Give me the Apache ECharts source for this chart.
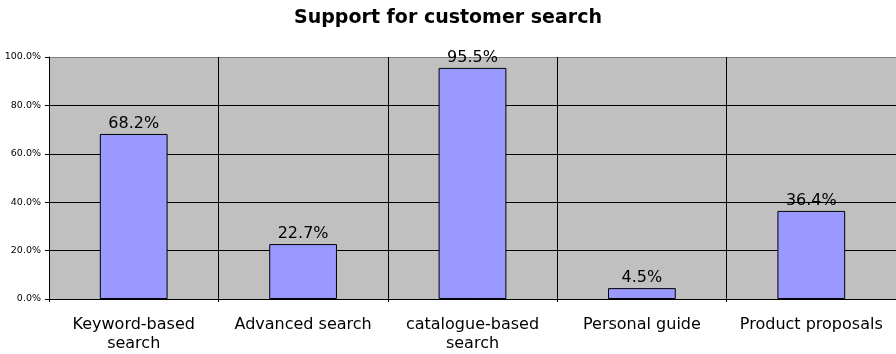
<!DOCTYPE html>
<html><head><meta charset="utf-8">
<script src="https://cdn.jsdelivr.net/npm/echarts@6/dist/echarts.min.js"></script>
<style>html,body{margin:0;padding:0;background:#fff}#c{width:896px;height:354px}</style>
</head><body><div id="c"></div>
<script>
const categories = ['Keyword-based\nsearch', 'Advanced search', 'catalogue-based\nsearch', 'Personal guide', 'Product proposals'];
const values = [0.682, 0.227, 0.955, 0.045, 0.364];
const yTicks = [0, 0.2, 0.4, 0.6, 0.8, 1.0];
const title = 'Support for customer search';

const chart = echarts.init(document.getElementById('c'), null, {renderer: 'canvas'});
chart.setOption({
  animation: false,
  title: {text: title, left: 'center', top: 4, textStyle: {fontFamily: 'DejaVu Sans', fontSize: 19, fontWeight: 'bold', color: '#000'}},
  grid: {left: 49, right: 0, top: 57, bottom: 55, show: true, backgroundColor: '#c0c0c0', borderWidth: 0},
  xAxis: {
    type: 'category', data: categories,
    axisLine: {show: true, lineStyle: {color: '#000', width: 1}},
    axisTick: {show: true, length: 3, lineStyle: {color: '#000'}},
    splitLine: {show: true, lineStyle: {color: '#000', width: 1}},
    axisLabel: {fontFamily: 'DejaVu Sans', fontSize: 16, color: '#000', margin: 16, lineHeight: 19, interval: 0}
  },
  yAxis: {
    type: 'value', min: yTicks[0], max: yTicks[yTicks.length - 1], interval: 0.2,
    axisLine: {show: true, lineStyle: {color: '#000'}},
    axisTick: {show: true, length: 4, lineStyle: {color: '#000'}},
    splitLine: {show: true, lineStyle: {color: ['#000', '#000', '#000', '#000', '#000', '#808080'], width: 1}},
    axisLabel: {fontFamily: 'DejaVu Sans', fontSize: 9.5, color: '#000', margin: 8, formatter: v => (v * 100).toFixed(1) + '%'}
  },
  series: [{
    type: 'bar', data: values, barWidth: '40%',
    itemStyle: {color: '#9999ff', borderColor: '#000', borderWidth: 1},
    label: {show: true, position: 'top', distance: 2, fontFamily: 'DejaVu Sans', fontSize: 16, color: '#000', formatter: p => (p.value * 100).toFixed(1) + '%'}
  }]
});
</script></body></html>
